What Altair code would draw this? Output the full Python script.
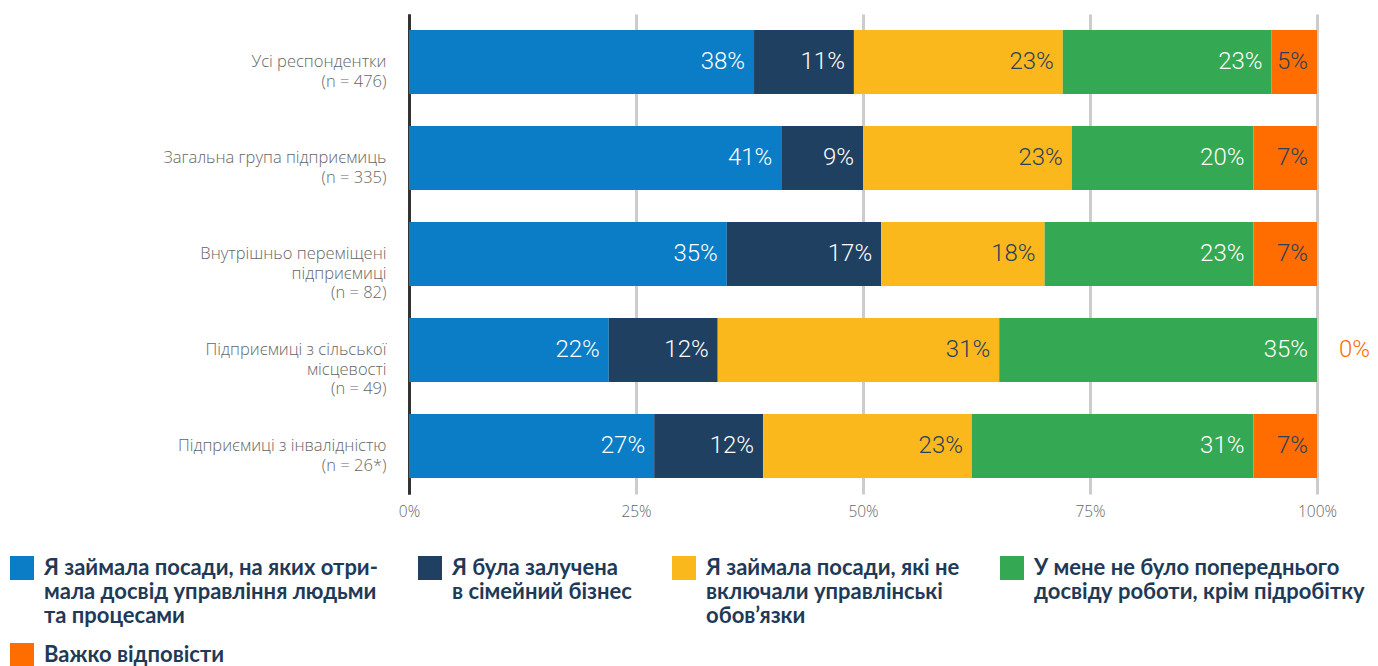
import altair as alt
import pandas as pd

groups = [
    "Усі респондентки\n(n = 476)",
    "Загальна група підприємиць\n(n = 335)",
    "Внутрішньо переміщені\nпідприємиці\n(n = 82)",
    "Підприємиці з сільської\nмісцевості\n(n = 49)",
    "Підприємиці з інвалідністю\n(n = 26*)",
]
series = [
    "Я займала посади, на яких отри-\nмала досвід управління людьми\nта процесами",
    "Я була залучена\nв сімейний бізнес",
    "Я займала посади, які не\nвключали управлінські\nобов’язки",
    "У мене не було попереднього\nдосвіду роботи, крім підробітку",
    "Важко відповісти",
]
colors = ["#0A7DC6", "#1F4060", "#FBB81C", "#34A853", "#FF6D00"]
text_colors = ["#FFFFFF", "#FFFFFF", "#2A3F5A", "#FFFFFF", "#2A3F5A"]

values = [
    [38, 11, 23, 23, 5],
    [41, 9, 23, 20, 7],
    [35, 17, 18, 23, 7],
    [22, 12, 31, 35, 0],
    [27, 12, 23, 31, 7],
]

rows = []
for gi, g in enumerate(groups):
    for si, s in enumerate(series):
        rows.append({"group": g, "series": s, "order": si,
                     "value": values[gi][si], "tc": text_colors[si]})
df = pd.DataFrame(rows)

base = alt.Chart(df).transform_stack(
    stack="value", as_=["x0", "x1"], groupby=["group"],
    sort=[alt.SortField("order", order="ascending")]
).transform_calculate(lbl="datum.value + '%'")

yenc = alt.Y(
    "group:N", sort=groups, title=None,
    scale=alt.Scale(paddingInner=1/3, paddingOuter=1/6),
    axis=alt.Axis(
        labelExpr="split(datum.label, '\\n')",
        labelFont="Open Sans", labelFontSize=16.5, labelFontWeight=300,
        labelColor="#666666",
        labelPadding=23, labelLimit=400, labelLineHeight=19.5,
        ticks=False, domain=True, domainColor="#333333", domainWidth=3,
    ),
)

xscale = alt.Scale(domain=[0, 100], nice=False)
xaxis = alt.Axis(
    values=[0, 25, 50, 75, 100], labelExpr="datum.value + '%'",
    grid=True, gridColor={"condition": {"test": "datum.value === 0", "value": "#333333"}, "value": "#CCCCCC"},
    gridWidth=3, domain=False, ticks=False, labelPadding=10, labelFlush=False,
    labelFont="Open Sans", labelFontSize=15.5, labelFontWeight=300,
    labelColor="#666666", title=None,
)

legend_label = (
    "split(datum.label + (length(split(datum.label, '\\n')) == 2 ? '\\n ' : ''), '\\n')"
)

bars = base.mark_bar().encode(
    x=alt.X("x0:Q", scale=xscale, axis=xaxis),
    x2="x1:Q",
    y=yenc,
    color=alt.Color(
        "series:N", sort=series,
        scale=alt.Scale(domain=series, range=colors),
        legend=alt.Legend(
            orient="none", legendX=-399, legendY=542, direction="horizontal",
            columns=4, title=None, symbolType="square", symbolSize=576,
            symbolStrokeWidth=0, symbolOpacity=1,
            labelFont="Lato", labelFontSize=22, labelFontWeight="bold",
            labelColor="#1F3A57", labelLimit=600, labelOffset=10,
            labelExpr=legend_label,
            columnPadding=40, rowPadding=16, padding=0,
        ),
    ),
    order=alt.Order("order:Q"),
)

labels = base.transform_filter("datum.value > 0").mark_text(
    align="right", baseline="middle", dx=-9, font="Roboto", fontSize=24,
    fontWeight=300
).encode(
    x=alt.X("x1:Q", scale=xscale),
    y=alt.Y("group:N", sort=groups),
    text="lbl:N",
    color=alt.Color("tc:N", scale=None),
)

zero = base.transform_filter("datum.value == 0").mark_text(
    align="left", baseline="middle", dx=22, font="Roboto", fontSize=24,
    fontWeight=300, color="#FF6D00"
).encode(
    x=alt.X("x1:Q", scale=xscale),
    y=alt.Y("group:N", sort=groups),
    text="lbl:N",
)

chart = alt.layer(bars, labels, zero).properties(
    width=908, height=480,
    padding={"left": 401, "top": 6, "right": 53, "bottom": 172},
    autosize=alt.AutoSizeParams(type="none"),
).configure_view(stroke=None)

chart.save("out.html", embed_options={"renderer": "svg", "actions": False})
